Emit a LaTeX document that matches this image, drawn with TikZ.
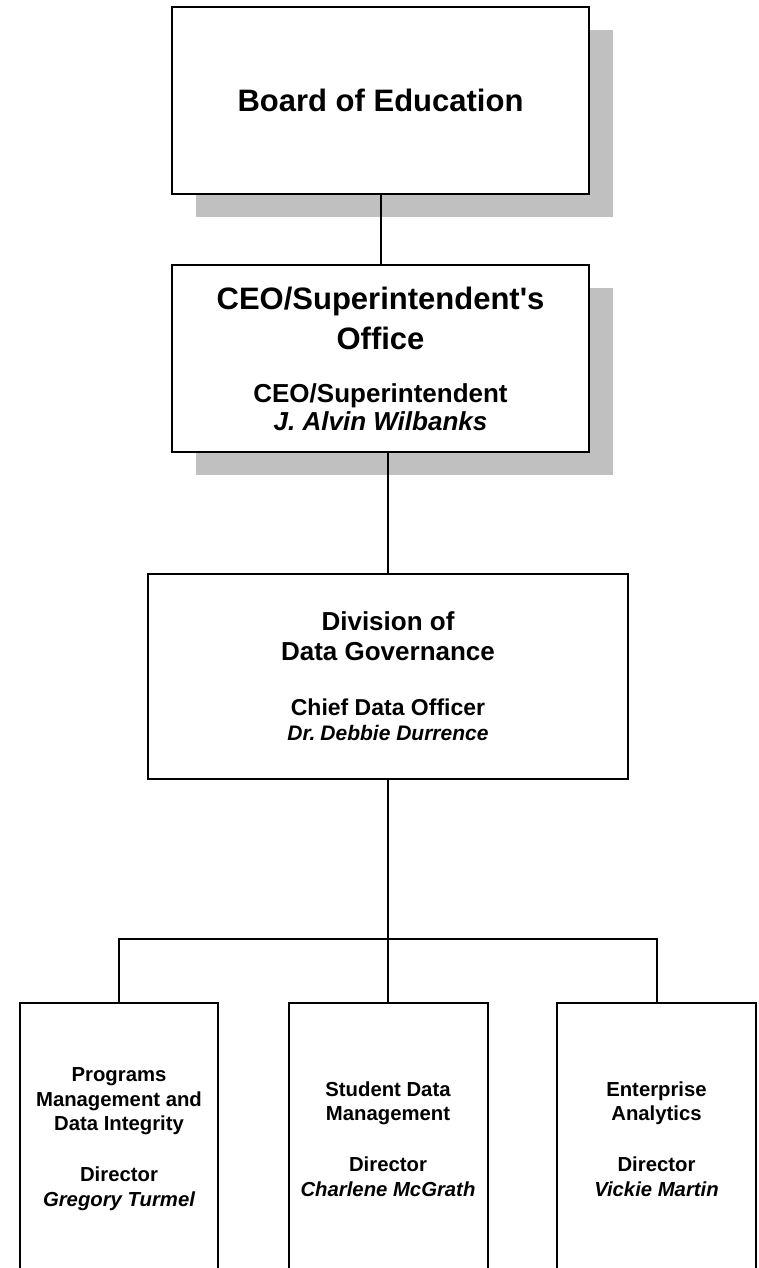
\documentclass[tikz,border=0pt]{standalone}
\usepackage{fontspec}
\setmainfont{Liberation Sans}
\usetikzlibrary{shadows}
\definecolor{shadegray}{RGB}{192,192,192}
\newcommand{\boxsize}[2]{\fontsize{#1}{#2}\selectfont\spaceskip=\fontdimen2\font\relax}

\begin{document}
\begin{tikzpicture}[x=1pt, y=-1pt,
    orgbox/.style={draw, line width=2pt, fill=white, inner sep=0pt, font=\bfseries, execute at begin node=\centering},
    shadowed/.style={drop shadow={shadow xshift=24pt, shadow yshift=-23pt, fill=shadegray, opacity=1}},
    link/.style={line width=2pt}]
  \useasboundingbox (0, 0) rectangle (758, 1268);

  \node [orgbox, shadowed, minimum width=417pt, minimum height=187pt, text width=400pt] (board) at (380.5, 100.5)
    {\boxsize{31}{38}Board of Education\par};

  \node [orgbox, shadowed, minimum width=417pt, minimum height=187pt, text width=400pt] (ceo) at (380.5, 358.5)
    {{\boxsize{31}{40}CEO/Superintendent\textquotesingle s\\Office\par}
     \vspace{25pt}
     {\boxsize{26}{28}CEO/Superintendent\\\itshape\spaceskip=\fontdimen2\font J. Alvin Wilbanks\par}};

  \node [orgbox, minimum width=480pt, minimum height=205pt, text width=460pt] (division) at (388, 676.5)
    {{\boxsize{26}{30}Division of\\Data Governance\par}
     \vspace{30pt}
     {\boxsize{23}{25}Chief Data Officer\par}
     {\itshape\boxsize{21}{25}Dr. Debbie Durrence\par}};

  \node [orgbox, minimum width=198pt, minimum height=272pt, text width=190pt] (programs) at (119, 1139)
    {\boxsize{20.3}{24.5}Programs\\Management and\\Data Integrity\\[26.5pt]Director\\\itshape\spaceskip=\fontdimen2\font Gregory Turmel\par};
  \node [orgbox, minimum width=199pt, minimum height=272pt, text width=190pt] (student) at (388, 1139)
    {\boxsize{20.3}{24.5}Student Data\\Management\\[26.5pt]Director\\\itshape\spaceskip=\fontdimen2\font Charlene McGrath\par};
  \node [orgbox, minimum width=199pt, minimum height=272pt, text width=190pt] (analytics) at (656.5, 1139)
    {\boxsize{20.3}{24.5}Enterprise\\Analytics\\[26.5pt]Director\\\itshape\spaceskip=\fontdimen2\font Vickie Martin\par};

  \coordinate (bus) at (388, 939);
  \draw [link] (board) -- (ceo);
  \draw [link] (division.north) -- (division.north |- ceo.south);
  \draw [link] (division.south) -- (student.north);
  \draw [link] (programs.north) |- (bus) -| (analytics.north);
\end{tikzpicture}
\end{document}
